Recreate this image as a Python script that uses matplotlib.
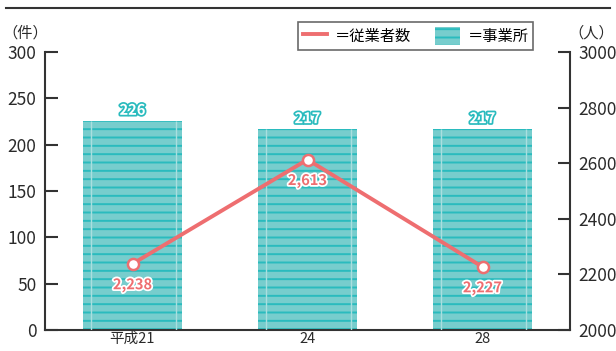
import matplotlib.pyplot as plt
import matplotlib.patheffects as pe
from matplotlib.lines import Line2D
from matplotlib.patches import Patch

plt.rcParams['font.family'] = ['Noto Sans CJK JP', 'DejaVu Sans']
plt.rcParams['hatch.linewidth'] = 1.4

years = ['平成21', '24', '28']
offices = [226, 217, 217]          # 事業所 (件)
workers = [2238, 2613, 2227]       # 従業者数 (人)

bar_face = '#77CDCD'
hatch_col = '#2ABBBE'
line_col = '#EE6E70'
spine_col = '#333333'
txt_col = '#2a2a2a'

fig = plt.figure(figsize=(6.16, 3.51), dpi=100)
ax = fig.add_axes([45/616, 1-330/351, 525/616, 278/351])
ax2 = ax.twinx()

x = list(range(len(years)))
w = 0.566
ax.bar(x, offices, width=w, color=bar_face, hatch='--', edgecolor=hatch_col,
       linewidth=0, zorder=2)
# faint vertical lines inside bars
for xi, h in zip(x, offices):
    ax.vlines([xi - 0.235, xi + 0.25], 0, h, color='#A9DFDF', lw=1, zorder=3)
for xi, h in zip(x, offices):
    ax.text(xi, h + 3, str(h), ha='center', va='bottom', fontsize=10.5,
            fontweight='bold', color='white', zorder=5,
            path_effects=[pe.withStroke(linewidth=2.5, foreground=hatch_col)])

ax.set_xlim(-0.5, 2.5)
ax.set_ylim(0, 300)
ax.set_yticks([0, 50, 100, 150, 200, 250, 300])
ax.set_xticks(x)
ax.set_xticklabels(years)

ax2.plot(x, workers, color=line_col, lw=2.8, marker='o', ms=8,
         mfc='white', mec=line_col, mew=1.8, zorder=4)
for xi, v in zip(x, workers):
    ax2.annotate(f'{v:,}', (xi, v), xytext=(0, -15), textcoords='offset points',
                 ha='center', va='center', fontsize=10.5, fontweight='bold',
                 color=line_col,
                 path_effects=[pe.withStroke(linewidth=2.5, foreground='white')])
ax2.set_ylim(2000, 3000)
ax2.set_yticks([2000, 2200, 2400, 2600, 2800, 3000])

for a in (ax, ax2):
    a.spines['top'].set_visible(False)
    for s in a.spines.values():
        s.set_color(spine_col)
        s.set_linewidth(1.5)
ax.spines['right'].set_visible(False)
ax2.spines['left'].set_visible(False)
ax2.spines['bottom'].set_visible(False)

ax.tick_params(axis='y', direction='in', length=9, width=1.5, color=spine_col,
               labelsize=12.5, pad=6, labelcolor=txt_col)
ax.tick_params(axis='x', length=0, labelsize=10.5, pad=1.5, labelcolor=txt_col)
ax2.tick_params(axis='y', direction='in', length=9, width=1.5, color=spine_col,
                labelsize=12.5, pad=6, labelcolor=txt_col)

fig.text(25/616, 1-33/351, '（件）', ha='center', va='center', fontsize=11, color=txt_col)
fig.text(591/616, 1-33/351, '（人）', ha='center', va='center', fontsize=11, color=txt_col)

handles = [Line2D([], [], color=line_col, lw=2.8),
           Patch(facecolor=bar_face, hatch='--', edgecolor=hatch_col, linewidth=0)]
leg = fig.legend(handles, ['＝従業者数', '＝事業所'], loc='upper left',
                 bbox_to_anchor=(298/616, 1-22/351), ncol=2, fontsize=11,
                 frameon=True, fancybox=False, edgecolor='#444444',
                 handlelength=1.6, handleheight=1.5, columnspacing=1.6,
                 borderpad=0.3, handletextpad=0.5, borderaxespad=0)
leg.get_frame().set_linewidth(1.2)

fig.add_artist(Line2D([6/616, 610/616], [1-7.5/351, 1-7.5/351],
                      color='#333333', lw=1.5))

fig.savefig('out.png', dpi=100)
